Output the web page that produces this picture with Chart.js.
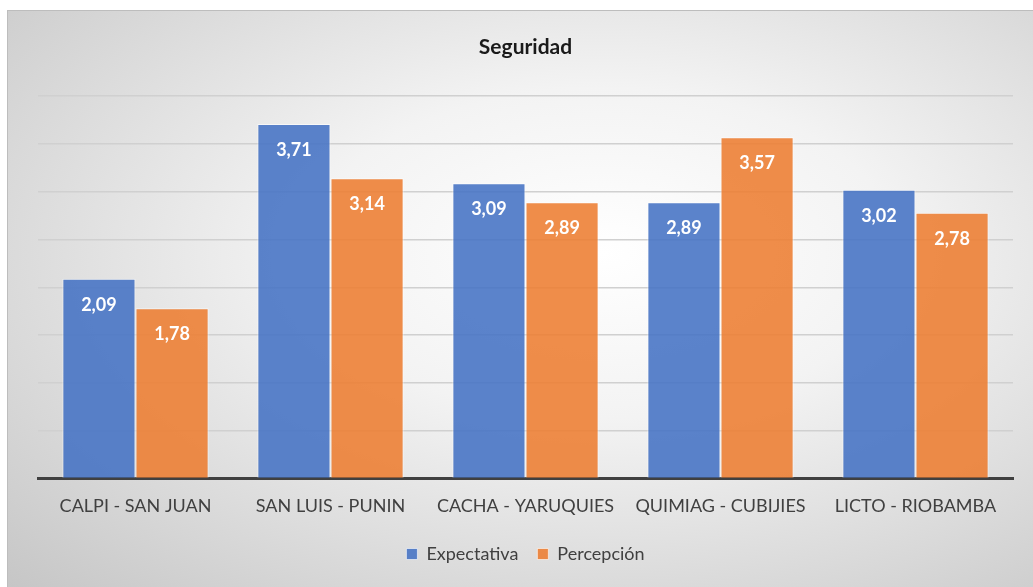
<!DOCTYPE html>
<html lang="es">
<head>
    <meta charset="UTF-8">
    <title>Seguridad</title>
    <script src="https://cdn.jsdelivr.net/npm/chart.js"></script>
    <style>
        body {
            margin: 0;
            background: #ffffff;
        }
        #marco {
            position: absolute;
            left: 7px;
            top: 10px;
            width: 1026px;
            height: 577px;
            border-left: 1px solid #bdbdbd;
            border-top: 1px solid #bdbdbd;
            box-sizing: border-box;
            background: radial-gradient(ellipse at 58% 42%, #ffffff 0%, #f3f3f3 35%, #c6c6c6 100%);
        }
    </style>
</head>
<body>
    <div id="marco">
        <canvas id="graficoSeguridad"></canvas>
    </div>

    <script>
        const comunidades = ['CALPI - SAN JUAN', 'SAN LUIS - PUNIN', 'CACHA - YARUQUIES', 'QUIMIAG - CUBIJIES', 'LICTO - RIOBAMBA'];
        const expectativa = [2.09, 3.71, 3.09, 2.89, 3.02];
        const percepcion = [1.78, 3.14, 2.89, 3.57, 2.78];

        const fuente = 'Lato, "Open Sans", sans-serif';

        // etiquetas de valor dentro de cada barra (coma decimal)
        const etiquetasValor = {
            id: 'etiquetasValor',
            afterDatasetsDraw(chart) {
                const ctx = chart.ctx;
                ctx.save();
                ctx.font = 'bold 18px ' + fuente;
                ctx.fillStyle = '#ffffff';
                ctx.textAlign = 'center';
                ctx.textBaseline = 'middle';
                chart.data.datasets.forEach((ds, i) => {
                    chart.getDatasetMeta(i).data.forEach((bar, j) => {
                        const txt = ds.data[j].toFixed(2).replace('.', ',');
                        ctx.fillText(txt, bar.x, bar.y + 26);
                    });
                });
                ctx.restore();
            }
        };

        const ctx1 = document.getElementById('graficoSeguridad').getContext('2d');
        const grafico = new Chart(ctx1, {
            type: 'bar',
            data: {
                labels: comunidades,
                datasets: [
                    {
                        label: 'Expectativa',
                        data: expectativa,
                        backgroundColor: 'rgba(68, 114, 196, 0.88)',
                        borderColor: 'rgba(255, 255, 255, 0.6)',
                        borderWidth: 1
                    },
                    {
                        label: 'Percepción',
                        data: percepcion,
                        backgroundColor: 'rgba(237, 125, 49, 0.88)',
                        borderColor: 'rgba(255, 255, 255, 0.6)',
                        borderWidth: 1
                    }
                ]
            },
            options: {
                responsive: true,
                maintainAspectRatio: false,
                animation: false,
                categoryPercentage: 0.75,
                barPercentage: 1.0,
                layout: {
                    padding: { left: 30, right: 20, top: 14, bottom: 14 }
                },
                plugins: {
                    title: {
                        display: true,
                        text: 'Seguridad',
                        color: '#1a1a1a',
                        font: { family: fuente, size: 21, weight: 'bold' },
                        padding: { top: 10, bottom: 36 }
                    },
                    legend: {
                        position: 'bottom',
                        labels: {
                            color: '#404040',
                            font: { family: fuente, size: 18 },
                            boxWidth: 11,
                            boxHeight: 11,
                            padding: 19
                        }
                    },
                    tooltip: { enabled: false }
                },
                scales: {
                    y: {
                        min: 0,
                        max: 4,
                        ticks: { display: false, stepSize: 0.5 },
                        border: { display: false },
                        grid: { color: '#d0d0d0', lineWidth: 1.5, drawTicks: false }
                    },
                    x: {
                        grid: { display: false },
                        border: { color: '#404040', width: 3 },
                        ticks: {
                            color: '#404040',
                            font: { family: fuente, size: 18 },
                            padding: 9
                        }
                    }
                }
            },
            plugins: [etiquetasValor]
        });
    </script>
</body>
</html>
